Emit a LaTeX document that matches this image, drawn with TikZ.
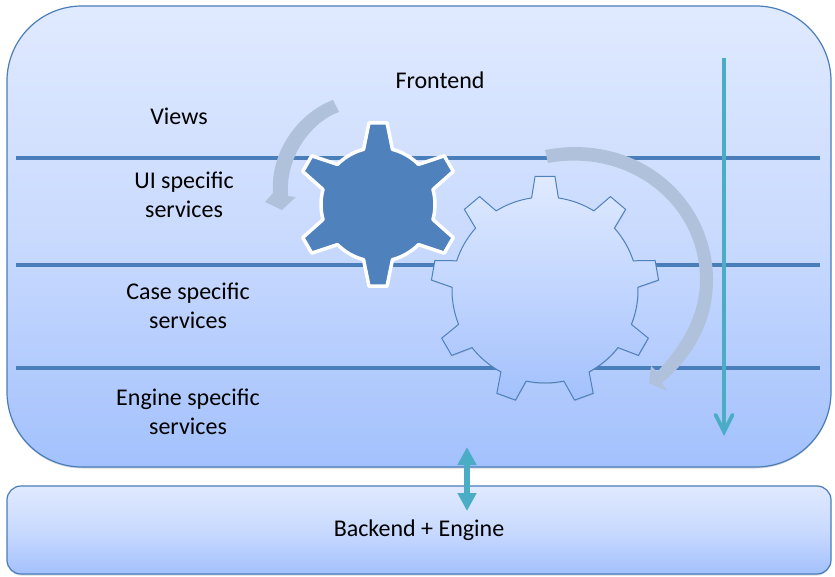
\documentclass[tikz,border=0pt]{standalone}
\usepackage{fontspec}
\setmainfont{Carlito}
\usepackage{tikz}
\usetikzlibrary{
  arrows.meta,
  shadows
}
\usepackage{xcolor}
\definecolor{myline}{HTML}{4A7EBB}
\definecolor{mygear}{HTML}{4F81BD}
\definecolor{myturn}{HTML}{B0C2DB}
\definecolor{myteal}{HTML}{4BACC6}
\definecolor{mytop}{HTML}{E0EAFF}
\definecolor{mymid}{HTML}{C9DAFE}
\definecolor{mybot}{HTML}{A3C1FD}

% one gear outline, centred on the origin of its scope
\newcommand{\gearoutline}[5]{
  (90-#5:#3) \foreach \n [evaluate=\n as \a using 90+(\n-1)*360/#1] in {1,...,#1} {
    -- ({\a-#5}:#3) -- ({\a-#4}:#2) -- ({\a+#4}:#2) -- ({\a+#5}:#3)
    arc[start angle=\a+#5, end angle=\a+360/#1-#5, radius=#3]
  } -- cycle
}

\begin{document}
\begin{tikzpicture}[
  x=1pt, y=1pt,
  my_panel/.style={
    draw=myline,
    line width=1.2pt,
    top color=mytop,
    bottom color=mybot,
    middle color=mymid,
    drop shadow={shadow xshift=0pt, shadow yshift=-1.5pt, opacity=0.3},
  },
  my_text/.style={
    align=center,
    inner sep=0pt,
    font=\fontsize{24}{29}\selectfont,
  },
  my_level/.style={
    myline,
    line width=3.5pt,
    preaction={draw=black, opacity=0.15, transform canvas={yshift=-1.5pt}},
  },
  my_turn/.style={
    fill=myturn,
  }
  ]

  \useasboundingbox (0,0) rectangle (835,-577);

  \node[my_panel, minimum width=824pt, minimum height=461pt, rounded corners=75pt] (frontend) at (419,-236.5) {};
  \node[my_panel, minimum width=824pt, minimum height=88pt, rounded corners=14pt, my_text] (backend) at (419,-530) {Backend + Engine};

  \coordinate (level1w) at (16,-158);
  \coordinate (level1e) at (820,-158);
  \coordinate (level2w) at (16,-265);
  \coordinate (level2e) at (820,-265);
  \coordinate (level3w) at (16,-368);
  \coordinate (level3e) at (820,-368);
  \draw[my_level] (level1w) -- (level1e);
  \draw[my_level] (level2w) -- (level2e);
  \draw[my_level] (level3w) -- (level3e);

  \node[my_text] (title) at (440,-80) {Frontend};
  \node[my_text] (views) at (179,-116) {Views};
  \node[my_text] (uiservices) at (184,-194.5) {UI specific\\services};
  \node[my_text] (caseservices) at (188,-305.5) {Case specific\\services};
  \node[my_text] (engineservices) at (188,-411.5) {Engine specific\\services};

  % small gear and its turn
  \path[my_turn] (333,-100) .. controls (300,-112) and (270,-150) .. (273,-193)
    -- (265,-202) -- (282,-210) -- (296,-197) -- (288,-196)
    .. controls (285,-155) and (313,-121) .. (339,-112) -- cycle;
  \draw[shift={(378,-204.5)}, fill=mygear, draw=white, line width=3.5pt, line join=round]
    \gearoutline{6}{82.2}{57}{6.3}{14.7};

  % large gear and its turn
  \draw[shift={(545,-290)}, top color=mytop, bottom color=mybot, draw=mygear, line width=1pt,
    drop shadow={shadow xshift=0.5pt, shadow yshift=-1pt, opacity=0.25}]
    \gearoutline{9}{114}{93}{5}{8.3};
  \path[my_turn] (545,-150) .. controls (640,-132) and (713,-200) .. (713,-280)
    .. controls (713,-320) and (695,-355) .. (662,-383)
    -- (667,-391) -- (649,-383) -- (651,-366) -- (657,-372)
    .. controls (682,-345) and (700,-315) .. (700,-280)
    .. controls (700,-205) and (630,-148) .. (548,-163) -- cycle;

  \coordinate (flowtop) at (724,-58);
  \coordinate (flowbottom) at (724,-436);
  \draw[myteal, line width=3.8pt, -{Straight Barb[length=17pt, width=17pt, line cap=round]}] (flowtop) -- (flowbottom);

  \coordinate (linktop) at (467,-447);
  \coordinate (linkbottom) at (467,-511);
  \draw[myteal, line width=6.5pt, {Triangle[length=18pt, width=18pt]}-{Triangle[length=18pt, width=18pt]}] (linktop) -- (linkbottom);

\end{tikzpicture}
\end{document}
